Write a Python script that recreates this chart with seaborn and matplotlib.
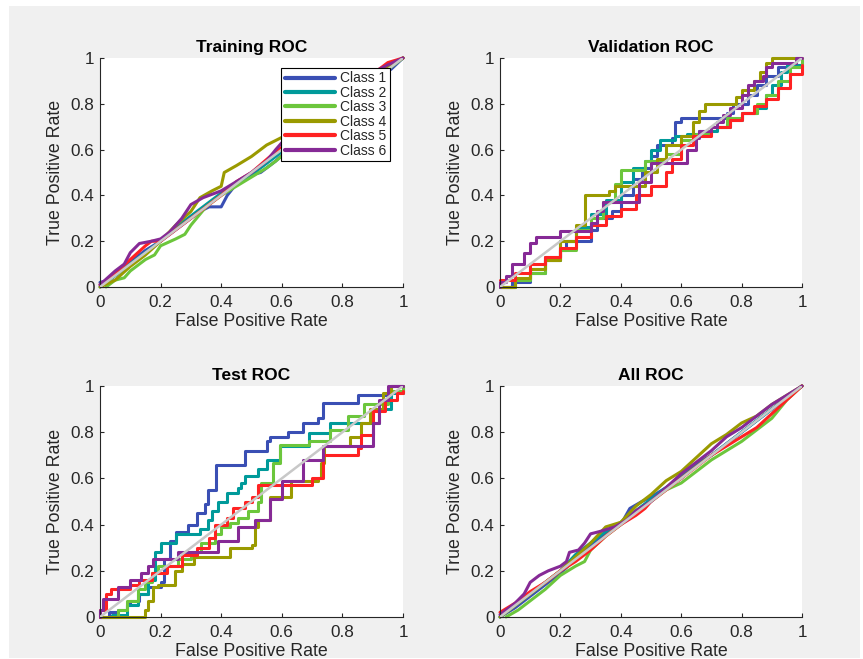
import matplotlib
matplotlib.use("Agg")
import matplotlib.pyplot as plt
from matplotlib.patches import Rectangle
from matplotlib.lines import Line2D
import seaborn as sns
import pandas as pd

# ---------------- data ----------------
class_names = ["Class 1", "Class 2", "Class 3", "Class 4", "Class 5", "Class 6"]
class_colors = ["#3a4fb4", "#009a9a", "#6cc63c", "#9a9a00", "#ff2222", "#862a96"]
tick_values = [0, 0.2, 0.4, 0.6, 0.8, 1]
tick_labels = ["0", "0.2", "0.4", "0.6", "0.8", "1"]
panel_titles = ["Training ROC", "Validation ROC", "Test ROC", "All ROC"]

# Training ROC (fpr, tpr)
train_1 = [(0, 0.02), (0.03, 0.03), (0.05, 0.05), (0.08, 0.08), (0.1, 0.11), (0.13, 0.14), (0.15, 0.16), (0.2, 0.2),
           (0.25, 0.25), (0.3, 0.3), (0.33, 0.33), (0.36, 0.35), (0.4, 0.35), (0.42, 0.4), (0.45, 0.45),
           (0.5, 0.49), (0.53, 0.5), (0.56, 0.53), (0.58, 0.55), (0.62, 0.6), (0.7, 0.7), (0.8, 0.8),
           (0.9, 0.92), (0.93, 0.95), (0.96, 0.95), (1, 1)]
train_2 = [(0, 0), (0.05, 0.05), (0.1, 0.1), (0.15, 0.15), (0.2, 0.2), (0.25, 0.26), (0.3, 0.31), (0.35, 0.36),
           (0.4, 0.41), (0.45, 0.45), (0.5, 0.49), (0.55, 0.54), (0.58, 0.57), (0.7, 0.7), (0.8, 0.8),
           (0.9, 0.91), (0.95, 0.96), (1, 1)]
train_3 = [(0.02, 0), (0.05, 0.03), (0.08, 0.04), (0.1, 0.07), (0.13, 0.1), (0.15, 0.12), (0.18, 0.14),
           (0.2, 0.18), (0.25, 0.21), (0.28, 0.23), (0.3, 0.27), (0.35, 0.35), (0.4, 0.4), (0.45, 0.44),
           (0.5, 0.48), (0.55, 0.52), (0.58, 0.55), (0.7, 0.68), (0.8, 0.79), (0.9, 0.9), (1, 1)]
train_4 = [(0, 0), (0.05, 0.03), (0.1, 0.09), (0.15, 0.14), (0.2, 0.2), (0.25, 0.27), (0.3, 0.33),
           (0.33, 0.39), (0.37, 0.42), (0.4, 0.44), (0.41, 0.5), (0.45, 0.53), (0.5, 0.57), (0.55, 0.62),
           (0.58, 0.64), (0.7, 0.72), (0.8, 0.82), (0.9, 0.92), (0.95, 0.96), (1, 1)]
train_5 = [(0, 0.01), (0.05, 0.06), (0.1, 0.12), (0.15, 0.18), (0.17, 0.2), (0.2, 0.2), (0.25, 0.25),
           (0.3, 0.3), (0.35, 0.35), (0.4, 0.4), (0.45, 0.46), (0.5, 0.5), (0.57, 0.58), (0.7, 0.71),
           (0.8, 0.81), (0.9, 0.9), (0.92, 0.95), (0.95, 0.98), (1, 1)]
train_6 = [(0, 0.01), (0.05, 0.07), (0.08, 0.1), (0.1, 0.15), (0.13, 0.19), (0.17, 0.2), (0.2, 0.21),
           (0.23, 0.24), (0.25, 0.27), (0.27, 0.3), (0.3, 0.36), (0.34, 0.39), (0.4, 0.42), (0.45, 0.46),
           (0.5, 0.5), (0.55, 0.55), (0.58, 0.6), (0.6, 0.63), (0.7, 0.72), (0.8, 0.83), (0.9, 0.93),
           (0.92, 0.95), (0.95, 0.97), (1, 1)]

# Validation ROC (step corners)
val_1 = [(0, 0), (0.03, 0), (0.04, 0.02), (0.1, 0.06), (0.15, 0.12), (0.2, 0.16), (0.22, 0.2), (0.3, 0.25),
         (0.32, 0.3), (0.37, 0.33), (0.4, 0.4), (0.44, 0.47), (0.47, 0.52), (0.5, 0.57), (0.52, 0.62),
         (0.57, 0.65), (0.58, 0.72), (0.6, 0.74), (0.75, 0.76), (0.77, 0.8), (0.82, 0.84), (0.85, 0.88),
         (0.88, 0.92), (0.92, 0.96), (0.96, 0.97), (1, 0.97)]
val_2 = [(0, 0), (0.05, 0.03), (0.1, 0.08), (0.15, 0.13), (0.2, 0.2), (0.25, 0.26), (0.3, 0.32), (0.35, 0.38),
         (0.4, 0.46), (0.44, 0.52), (0.48, 0.55), (0.5, 0.6), (0.53, 0.64), (0.58, 0.66), (0.62, 0.67),
         (0.66, 0.68), (0.72, 0.7), (0.76, 0.73), (0.8, 0.76), (0.85, 0.78), (0.88, 0.84), (0.9, 0.88),
         (0.93, 0.94), (0.95, 0.97), (1, 0.97)]
val_3 = [(0.02, 0), (0.05, 0.03), (0.1, 0.06), (0.15, 0.12), (0.2, 0.16), (0.25, 0.25), (0.3, 0.3),
         (0.34, 0.37), (0.38, 0.45), (0.4, 0.51), (0.46, 0.51), (0.48, 0.55), (0.55, 0.58), (0.6, 0.64),
         (0.65, 0.67), (0.7, 0.7), (0.75, 0.74), (0.8, 0.76), (0.85, 0.8), (0.88, 0.84), (0.92, 0.9),
         (0.96, 0.96), (1, 0.99)]
val_4 = [(0, 0), (0.05, 0.04), (0.1, 0.08), (0.15, 0.12), (0.2, 0.2), (0.25, 0.27), (0.28, 0.3),
         (0.28, 0.4), (0.33, 0.4), (0.36, 0.42), (0.38, 0.44), (0.45, 0.44), (0.48, 0.5), (0.52, 0.56),
         (0.55, 0.62), (0.6, 0.66), (0.64, 0.72), (0.66, 0.77), (0.68, 0.8), (0.75, 0.8), (0.78, 0.83),
         (0.8, 0.86), (0.84, 0.9), (0.86, 0.94), (0.88, 0.98), (0.9, 1), (1, 1)]
val_5 = [(0, 0.03), (0.05, 0.06), (0.1, 0.1), (0.15, 0.13), (0.2, 0.17), (0.25, 0.22), (0.3, 0.27),
         (0.35, 0.31), (0.4, 0.34), (0.45, 0.4), (0.5, 0.44), (0.55, 0.5), (0.57, 0.56), (0.6, 0.62),
         (0.64, 0.66), (0.7, 0.7), (0.76, 0.73), (0.8, 0.76), (0.84, 0.79), (0.88, 0.82), (0.92, 0.87),
         (0.96, 0.93), (1, 0.97)]
val_6 = [(0, 0), (0, 0.02), (0.02, 0.05), (0.04, 0.1), (0.08, 0.15), (0.1, 0.19), (0.12, 0.22),
         (0.19, 0.22), (0.2, 0.245), (0.28, 0.245), (0.3, 0.28), (0.32, 0.33), (0.34, 0.37), (0.46, 0.37),
         (0.46, 0.46), (0.5, 0.52), (0.5, 0.54), (0.61, 0.54), (0.62, 0.6), (0.65, 0.65), (0.66, 0.68),
         (0.7, 0.7), (0.72, 0.72), (0.74, 0.75), (0.76, 0.78), (0.8, 0.84), (0.82, 0.88), (0.84, 0.9),
         (0.87, 0.92), (0.88, 0.96), (0.9, 0.98), (0.96, 0.98), (0.98, 1), (1, 1)]

# Test ROC (step corners)
test_1 = [(0, 0), (0.03, 0.02), (0.06, 0.03), (0.09, 0.05), (0.1, 0.07), (0.13, 0.1), (0.16, 0.13),
          (0.2, 0.15), (0.21, 0.25), (0.23, 0.33), (0.25, 0.37), (0.29, 0.4), (0.32, 0.45), (0.345, 0.49),
          (0.356, 0.55), (0.384, 0.66), (0.47, 0.66), (0.48, 0.72), (0.54, 0.72), (0.55, 0.76),
          (0.56, 0.78), (0.62, 0.8), (0.67, 0.84), (0.72, 0.86), (0.736, 0.925), (0.81, 0.925),
          (0.85, 0.96), (0.93, 0.96), (0.96, 1), (1, 1)]
test_2 = [(0, 0), (0.04, 0.01), (0.09, 0.05), (0.125, 0.1), (0.16, 0.16), (0.18, 0.28), (0.2, 0.32),
          (0.25, 0.36), (0.33, 0.38), (0.356, 0.42), (0.37, 0.46), (0.39, 0.5), (0.42, 0.535),
          (0.455, 0.56), (0.466, 0.58), (0.477, 0.61), (0.52, 0.64), (0.55, 0.68), (0.594, 0.74),
          (0.67, 0.74), (0.69, 0.795), (0.76, 0.84), (0.89, 0.84), (0.92, 0.9), (0.96, 0.97), (1, 1)]
test_3 = [(0.04, 0), (0.06, 0.03), (0.09, 0.07), (0.125, 0.12), (0.147, 0.15), (0.17, 0.19),
          (0.19, 0.22), (0.23, 0.22), (0.257, 0.25), (0.3, 0.28), (0.334, 0.32), (0.38, 0.36),
          (0.4, 0.39), (0.43, 0.405), (0.455, 0.43), (0.49, 0.46), (0.52, 0.5), (0.53, 0.58),
          (0.57, 0.665), (0.594, 0.745), (0.69, 0.76), (0.76, 0.81), (0.82, 0.87), (0.87, 0.92),
          (0.95, 0.98), (1, 1)]
test_4 = [(0, 0), (0.14, 0), (0.15, 0.03), (0.16, 0.07), (0.175, 0.13), (0.19, 0.14), (0.235, 0.14),
          (0.246, 0.2), (0.27, 0.23), (0.31, 0.26), (0.42, 0.26), (0.43, 0.3), (0.5, 0.31), (0.51, 0.39),
          (0.52, 0.42), (0.56, 0.52), (0.63, 0.59), (0.72, 0.6), (0.73, 0.665), (0.74, 0.74),
          (0.825, 0.78), (0.86, 0.84), (0.89, 0.9), (0.935, 0.97), (0.96, 1), (1, 1)]
test_5 = [(0, 0), (0, 0.03), (0.02, 0.1), (0.035, 0.12), (0.09, 0.12), (0.1, 0.14), (0.13, 0.16),
          (0.17, 0.19), (0.22, 0.22), (0.27, 0.27), (0.32, 0.3), (0.36, 0.34), (0.38, 0.4), (0.42, 0.43),
          (0.44, 0.47), (0.48, 0.5), (0.5, 0.52), (0.52, 0.57), (0.66, 0.57), (0.7, 0.6), (0.735, 0.7),
          (0.85, 0.73), (0.86, 0.79), (0.9, 0.89), (0.94, 0.94), (0.98, 0.97), (1, 0.98)]
test_6 = [(0, 0), (0, 0.03), (0.01, 0.08), (0.06, 0.13), (0.1, 0.16), (0.136, 0.19), (0.16, 0.22),
          (0.175, 0.25), (0.246, 0.25), (0.257, 0.28), (0.38, 0.28), (0.39, 0.33), (0.455, 0.39),
          (0.51, 0.42), (0.56, 0.51), (0.6, 0.59), (0.67, 0.68), (0.735, 0.74), (0.88, 0.74),
          (0.9, 0.84), (0.92, 0.94), (0.95, 1), (1, 1)]

# All ROC
all_1 = [(0, 0), (0.05, 0.04), (0.1, 0.09), (0.15, 0.14), (0.2, 0.19), (0.25, 0.25), (0.3, 0.31),
         (0.35, 0.36), (0.4, 0.4), (0.43, 0.47), (0.47, 0.5), (0.5, 0.52), (0.55, 0.56), (0.6, 0.6),
         (0.65, 0.66), (0.7, 0.7), (0.75, 0.75), (0.8, 0.8), (0.85, 0.85), (0.9, 0.9), (0.95, 0.95), (1, 1)]
all_2 = [(0, 0), (0.05, 0.05), (0.1, 0.1), (0.15, 0.15), (0.2, 0.2), (0.25, 0.27), (0.3, 0.32),
         (0.35, 0.37), (0.4, 0.41), (0.45, 0.46), (0.5, 0.51), (0.55, 0.56), (0.6, 0.61), (0.65, 0.66),
         (0.7, 0.7), (0.75, 0.75), (0.8, 0.8), (0.85, 0.85), (0.9, 0.9), (0.95, 0.95), (1, 1)]
all_3 = [(0.02, 0), (0.06, 0.03), (0.1, 0.07), (0.15, 0.12), (0.2, 0.18), (0.25, 0.22), (0.28, 0.24),
         (0.3, 0.29), (0.35, 0.35), (0.4, 0.4), (0.45, 0.45), (0.5, 0.5), (0.55, 0.55), (0.6, 0.58),
         (0.65, 0.63), (0.7, 0.68), (0.75, 0.72), (0.8, 0.76), (0.85, 0.81), (0.9, 0.86), (0.95, 0.94),
         (1, 1)]
all_4 = [(0, 0), (0.05, 0.05), (0.1, 0.1), (0.15, 0.15), (0.2, 0.2), (0.25, 0.26), (0.3, 0.32),
         (0.35, 0.39), (0.4, 0.41), (0.45, 0.48), (0.5, 0.53), (0.55, 0.59), (0.6, 0.63), (0.65, 0.69),
         (0.7, 0.75), (0.75, 0.79), (0.8, 0.84), (0.85, 0.87), (0.9, 0.92), (0.95, 0.96), (1, 1)]
all_5 = [(0, 0.02), (0.05, 0.06), (0.1, 0.11), (0.15, 0.15), (0.2, 0.2), (0.25, 0.24), (0.3, 0.29),
         (0.35, 0.35), (0.4, 0.4), (0.45, 0.44), (0.48, 0.47), (0.5, 0.5), (0.55, 0.55), (0.6, 0.6),
         (0.65, 0.65), (0.7, 0.7), (0.75, 0.74), (0.8, 0.78), (0.85, 0.82), (0.9, 0.88), (0.95, 0.94), (1, 1)]
all_6 = [(0, 0.01), (0.05, 0.06), (0.08, 0.1), (0.1, 0.15), (0.13, 0.18), (0.16, 0.2), (0.2, 0.22),
         (0.22, 0.24), (0.23, 0.28), (0.26, 0.29), (0.28, 0.32), (0.3, 0.36), (0.33, 0.37), (0.38, 0.39),
         (0.42, 0.42), (0.45, 0.46), (0.5, 0.5), (0.55, 0.56), (0.6, 0.62), (0.65, 0.67), (0.7, 0.72),
         (0.75, 0.78), (0.8, 0.82), (0.85, 0.87), (0.9, 0.92), (0.95, 0.96), (1, 1)]

diag_fpr = [0, 1]
diag_tpr = [0, 1]

panels = [
    ([train_1, train_2, train_3, train_4, train_5, train_6], "default"),
    ([val_1, val_2, val_3, val_4, val_5, val_6], "steps-post"),
    ([test_1, test_2, test_3, test_4, test_5, test_6], "steps-post"),
    ([all_1, all_2, all_3, all_4, all_5, all_6], "default"),
]

# ---------------- style ----------------
sns.set_theme(style="white")
plt.rcParams["font.family"] = ["Liberation Sans", "DejaVu Sans"]
axis_color = "#262626"

fig = plt.figure(figsize=(8.63, 6.59), dpi=100)
fig.patch.set_facecolor("white")
W, H = 863, 659
fig.patches.append(Rectangle((9 / W, 1 / H), (860 - 9) / W, (658 - 6) / H,
                             transform=fig.transFigure, facecolor="#f0f0f0",
                             edgecolor="none", zorder=-10))

positions = [
    (100, 58, 403, 287),
    (500, 58, 802, 287),
    (100, 386, 403, 617),
    (500, 386, 802, 617),
]

for idx, ((curves, dstyle), (x0, y0, x1, y1)) in enumerate(zip(panels, positions)):
    ax = fig.add_axes([x0 / W, 1 - y1 / H, (x1 - x0) / W, (y1 - y0) / H])
    ax.set_facecolor("white")
    frames = []
    for name, pts in zip(class_names, curves):
        df = pd.DataFrame(pts, columns=["fpr", "tpr"])
        df["cls"] = name
        frames.append(df)
    data = pd.concat(frames, ignore_index=True)
    sns.lineplot(data=data, x="fpr", y="tpr", hue="cls", palette=class_colors,
                 hue_order=class_names, estimator=None, sort=False, legend=False,
                 linewidth=2.2, drawstyle=dstyle, ax=ax, clip_on=False)
    sns.lineplot(x=diag_fpr, y=diag_tpr, color="#c8c8c8", linewidth=1.8,
                 estimator=None, sort=False, ax=ax, zorder=5)

    ax.set_xlim(0, 1)
    ax.set_ylim(0, 1)
    ax.set_xticks(tick_values)
    ax.set_yticks(tick_values)
    ax.set_xticklabels(tick_labels)
    ax.set_yticklabels(tick_labels)
    ax.tick_params(direction="in", length=3, width=0.8, colors=axis_color,
                   labelsize=12.3, top=False, right=False, bottom=True, left=True)
    ax.tick_params(axis="x", pad=6)
    ax.tick_params(axis="y", pad=4)
    for side in ["top", "right"]:
        ax.spines[side].set_visible(False)
    for side in ["left", "bottom"]:
        ax.spines[side].set_color(axis_color)
        ax.spines[side].set_linewidth(0.8)
    ax.set_xlabel("False Positive Rate", fontsize=12.8, color=axis_color, labelpad=2)
    ax.set_ylabel("True Positive Rate", fontsize=12.8, color=axis_color, labelpad=5)
    ax.set_title(panel_titles[idx], fontsize=12.5, fontweight="bold", color="black", pad=4)

    if idx == 0:
        handles = [Line2D([0], [0], color=c, linewidth=3) for c in class_colors]
        leg = ax.legend(handles, class_names, loc="upper right",
                        bbox_to_anchor=((390 - x0) / (x1 - x0), (y1 - 68) / (y1 - y0)),
                        borderaxespad=0, fontsize=10, handlelength=3.6,
                        labelspacing=0.03, borderpad=0.25, handletextpad=0.4,
                        frameon=True, fancybox=False, framealpha=1)
        leg.get_frame().set_edgecolor("black")
        leg.get_frame().set_linewidth(0.8)
        leg.set_zorder(20)

fig.savefig("out.png", dpi=100, facecolor=fig.get_facecolor())
